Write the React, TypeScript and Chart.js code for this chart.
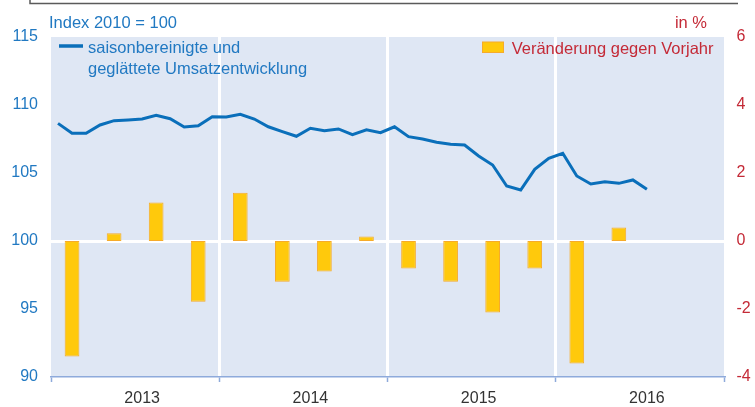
import React, { useEffect, useRef } from "react";
import { Chart, registerables } from "chart.js";

Chart.register(...registerables);

// Monthly index (2010 = 100), Jan 2013 .. Jul 2016
const indexValues: number[] = [
  108.65, 107.92, 107.92, 108.53, 108.85, 108.9, 108.97, 109.24, 108.99, 108.38, 108.48, 109.14,
  109.12, 109.32, 108.97, 108.4, 108.04, 107.7, 108.29, 108.11, 108.24, 107.82, 108.18, 107.97,
  108.4, 107.67, 107.5, 107.26, 107.11, 107.06, 106.25, 105.59, 104.04, 103.75, 105.27, 106.08,
  106.45, 104.78, 104.19, 104.36, 104.24, 104.49, 103.8,
];

// Quarterly change vs. previous year (%), Q1 2013 .. Q2 2016
const changeValues: number[] = [
  -3.4, 0.23, 1.13, -1.79, 1.42, -1.2, -0.9, 0.13, -0.81, -1.2, -2.1, -0.81, -3.6, 0.4,
];

const yearLabels: string[] = ["2013", "2014", "2015", "2016"];
const leftTicks: number[] = [90, 95, 100, 105, 110, 115];
const rightTicks: number[] = [-4, -2, 0, 2, 4, 6];

const lineLabel1 = "saisonbereinigte und";
const lineLabel2 = "geglättete Umsatzentwicklung";
const barLabel = "Veränderung gegen Vorjahr";
const leftUnit = "Index 2010 = 100";
const rightUnit = "in %";

const FONT = "'Liberation Sans', Arial, sans-serif";
const BLUE_TEXT = "#2179c2";
const RED_TEXT = "#c42a37";
const LINE_COLOR = "#0a6fba";
const BAR_FILL = "#ffc90c";
const BAR_BORDER = "#f6ab2a";
const BG = "#dfe7f4";
const AXIS_COLOR = "#8eaadb";

export default function App() {
  const ref = useRef<HTMLCanvasElement | null>(null);

  useEffect(() => {
    const canvas = ref.current;
    if (!canvas) return;

    const bgPlugin = {
      id: "bg",
      beforeDraw(chart: any) {
        const { ctx, chartArea } = chart;
        ctx.save();
        ctx.fillStyle = BG;
        ctx.fillRect(chartArea.left, chartArea.top, chartArea.right - chartArea.left, chartArea.bottom - chartArea.top);
        ctx.restore();
      },
    };

    const overlayPlugin = {
      id: "overlay",
      afterDraw(chart: any) {
        const { ctx } = chart;
        ctx.save();
        // top frame
        ctx.strokeStyle = "#5a5a5a";
        ctx.lineWidth = 1.5;
        ctx.beginPath();
        ctx.moveTo(30, 0);
        ctx.lineTo(30, 3.5);
        ctx.lineTo(738, 3.5);
        ctx.stroke();

        ctx.textBaseline = "alphabetic";
        ctx.font = `16.5px ${FONT}`;
        ctx.fillStyle = BLUE_TEXT;
        ctx.textAlign = "left";
        ctx.fillText(leftUnit, 49, 27.5);
        ctx.fillStyle = RED_TEXT;
        ctx.textAlign = "right";
        ctx.fillText(rightUnit, 707, 27.5);

        // left legend
        ctx.strokeStyle = LINE_COLOR;
        ctx.lineWidth = 3.5;
        ctx.beginPath();
        ctx.moveTo(59, 46);
        ctx.lineTo(83, 46);
        ctx.stroke();
        ctx.fillStyle = BLUE_TEXT;
        ctx.textAlign = "left";
        ctx.fillText(lineLabel1, 88, 53);
        ctx.fillText(lineLabel2, 88, 73.5);

        // right legend
        ctx.fillStyle = BAR_FILL;
        ctx.fillRect(482.5, 42, 21, 10.5);
        ctx.strokeStyle = BAR_BORDER;
        ctx.lineWidth = 1;
        ctx.strokeRect(482.5, 42, 21, 10.5);
        ctx.fillStyle = RED_TEXT;
        ctx.textAlign = "right";
        ctx.fillText(barLabel, 713.5, 53.5);
        ctx.restore();
      },
    };

    const chart = new Chart(canvas, {
      type: "bar",
      data: {
        datasets: [
          {
            type: "line",
            label: lineLabel1 + " " + lineLabel2,
            data: indexValues.map((v, i) => ({ x: i + 0.5, y: v })),
            borderColor: LINE_COLOR,
            borderWidth: 3,
            pointRadius: 0,
            tension: 0,
            yAxisID: "y",
            xAxisID: "x",
            order: 0,
          } as any,
          {
            type: "bar",
            label: barLabel,
            data: changeValues.map((v, q) => ({ x: q * 3 + 1.5, y: v })),
            backgroundColor: BAR_FILL,
            borderColor: BAR_BORDER,
            borderWidth: 1,
            borderSkipped: false,
            categoryPercentage: 1,
            barPercentage: 0.35,
            yAxisID: "y2",
            xAxisID: "x",
            order: 1,
          } as any,
        ],
      },
      options: {
        responsive: false,
        animation: false,
        layout: { padding: { top: 37, left: 0, right: 0, bottom: 0 } },
        plugins: { legend: { display: false }, tooltip: { enabled: false } },
        scales: {
          x: {
            type: "linear",
            min: 0,
            max: 48,
            offset: false,
            afterBuildTicks(scale: any) {
              const t: any[] = [];
              for (let y = 0; y <= yearLabels.length; y++) {
                t.push({ value: y * 12 });
                if (y < yearLabels.length) t.push({ value: y * 12 + 6.5 });
              }
              scale.ticks = t;
            },
            afterFit(scale: any) {
              scale.height = 30;
            },
            ticks: {
              autoSkip: false,
              maxRotation: 0,
              padding: 7,
              color: "#333333",
              font: { family: FONT, size: 16 },
              callback(value: any) {
                const v = Number(value);
                if (v % 12 === 6.5) return yearLabels[Math.floor(v / 12)];
                return "";
              },
            },
            grid: {
              offset: false,
              drawOnChartArea: true,
              lineWidth: 3,
              tickLength: 5,
              tickWidth: 1.5,
              color(ctx: any) {
                const v = ctx.tick ? ctx.tick.value : -1;
                return v > 0 && v < 48 && v % 12 === 0 ? "#ffffff" : "rgba(0,0,0,0)";
              },
              tickColor(ctx: any) {
                const v = ctx.tick ? ctx.tick.value : -1;
                return v % 12 === 0 ? AXIS_COLOR : "rgba(0,0,0,0)";
              },
            },
            border: { display: true, color: AXIS_COLOR, width: 1.5 },
          },
          y: {
            type: "linear",
            position: "left",
            min: 90,
            max: 115,
            z: 1,
            afterBuildTicks(scale: any) {
              scale.ticks = leftTicks.map((v) => ({ value: v }));
            },
            afterFit(scale: any) {
              scale.width = 51;
            },
            ticks: {
              padding: 13,
              color: BLUE_TEXT,
              font: { family: FONT, size: 16 },
            },
            grid: {
              drawTicks: false,
              lineWidth: 3,
              color(ctx: any) {
                return ctx.tick && ctx.tick.value === 100 ? "#ffffff" : "rgba(0,0,0,0)";
              },
            },
            border: { display: false },
          },
          y2: {
            type: "linear",
            position: "right",
            min: -4,
            max: 6,
            afterBuildTicks(scale: any) {
              scale.ticks = rightTicks.map((v) => ({ value: v }));
            },
            afterFit(scale: any) {
              scale.width = 31;
            },
            ticks: {
              padding: 12.5,
              color: RED_TEXT,
              font: { family: FONT, size: 16 },
            },
            grid: { display: false, drawTicks: false },
            border: { display: false },
          },
        },
      } as any,
      plugins: [bgPlugin, overlayPlugin],
    });

    return () => chart.destroy();
  }, []);

  return (
    <div style={{ position: "fixed", left: 0, top: 0, width: 755, height: 407, background: "#ffffff" }}>
      <canvas ref={ref} width={755} height={407} style={{ width: 755, height: 407, display: "block" }} />
    </div>
  );
}
